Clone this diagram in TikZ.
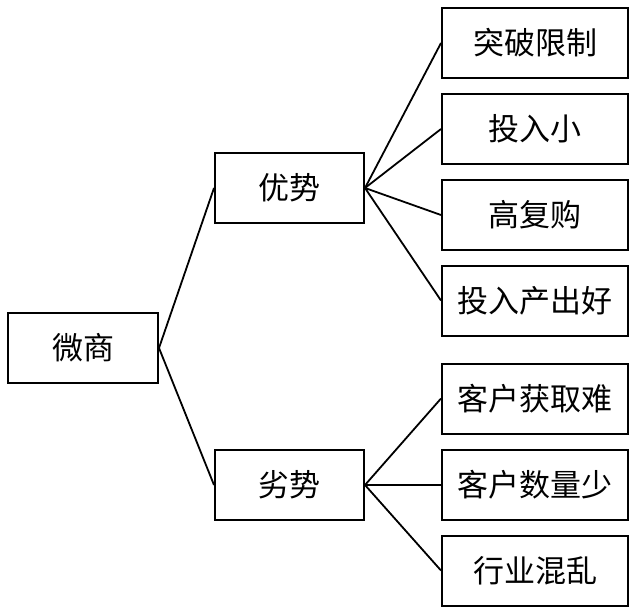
\documentclass[tikz,border=0pt]{standalone}
\usepackage{fontspec}
\setmainfont{Noto Sans CJK SC}
\begin{document}
\begin{tikzpicture}[x=1pt,y=-1pt,
  box/.style={draw, line width=2pt, inner sep=0pt, minimum height=70pt, font=\fontsize{31}{33}\selectfont},
  mid/.style={box, minimum width=149pt},
  leaf/.style={box, minimum width=186pt},
  link/.style={line width=1.8pt}]
\useasboundingbox (0,0) rectangle (634,615);
\node[box, minimum width=150pt] (root) at (83,348) {微商};
\node[mid] (adv) at (289.5,188) {优势};
\node[mid] (dis) at (289.5,485) {劣势};
\node[leaf] (a1) at (535,43) {突破限制};
\node[leaf] (a2) at (535,129) {投入小};
\node[leaf] (a3) at (535,215) {高复购};
\node[leaf] (a4) at (535,300.5) {投入产出好};
\node[leaf] (d1) at (535,398.5) {客户获取难};
\node[leaf] (d2) at (535,485) {客户数量少};
\node[leaf] (d3) at (535,570.5) {行业混乱};
\draw[link] (root.east) -- (adv.west);
\draw[link] (root.east) -- (dis.west);
\foreach \n in {a1,a2,a3,a4} \draw[link] (adv.east) -- (\n.west);
\foreach \n in {d1,d2,d3} \draw[link] (dis.east) -- (\n.west);
\end{tikzpicture}
\end{document}
